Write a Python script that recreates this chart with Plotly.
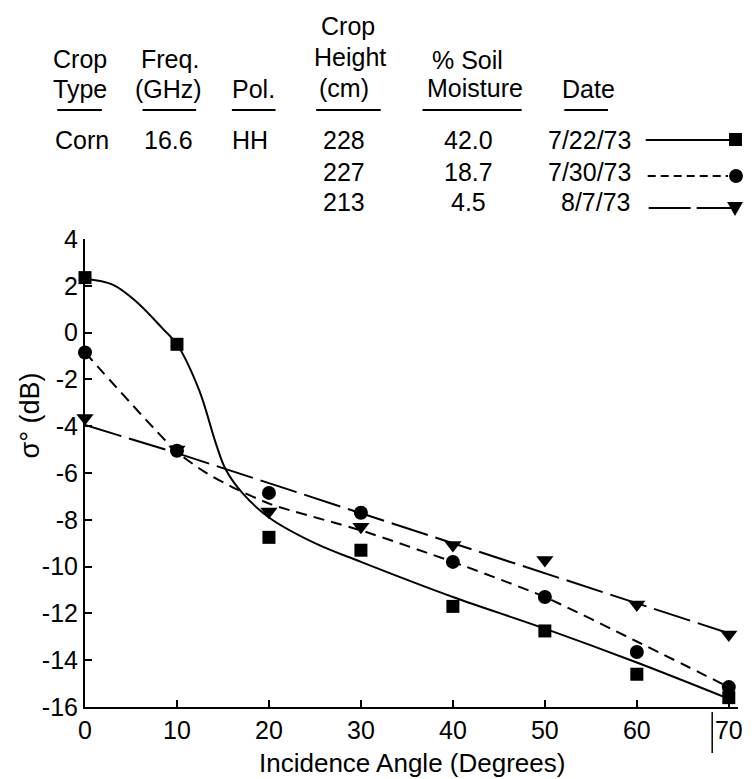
import plotly.graph_objects as go

# ---------------- data ----------------
angles = [0, 10, 20, 30, 40, 50, 60, 70]

sq_vals = [2.35, -0.5, -8.75, -9.3, -11.7, -12.75, -14.6, -15.6]      # 7/22/73
ci_vals = [-0.85, -5.05, -6.85, -7.7, -9.8, -11.3, -13.65, -15.15]    # 7/30/73
tr_vals = [-3.65, -5.0, -7.65, -8.3, -9.08, -9.72, -11.62, -12.9]     # 8/7/73

# hand-drawn fit curves
sq_fit_x = [0, 3, 5.5, 8.5, 10, 12.4, 14.2, 15.3, 17.1, 20, 25, 30, 40, 50, 60, 70]
sq_fit_y = [2.3, 2.05, 1.35, 0.15, -0.5, -2.45, -4.7, -5.85, -6.85, -7.9, -9.0, -9.8, -11.3, -12.65, -14.1, -15.65]
ci_fit_x = [0, 10, 13, 16, 20.3, 30, 40, 50, 60, 70]
ci_fit_y = [-0.85, -5.1, -5.95, -6.6, -7.35, -8.45, -9.8, -11.3, -13.2, -15.15]
tr_fit_x = [0, 10, 40, 70]
tr_fit_y = [-3.95, -5.15, -9.0, -12.85]

x_ticks = [0, 10, 20, 30, 40, 50, 60, 70]
y_ticks = [-16, -14, -12, -10, -8, -6, -4, -2, 0, 2, 4]

crop_type = "Corn"
freq = "16.6"
pol = "HH"
heights = ["228", "227", "213"]
moisture = ["42.0", "18.7", "4.5"]
dates = ["7/22/73", "7/30/73", "8/7/73"]

# ---------------- geometry ----------------
W, H = 755, 779
L, R, T, B = 85, 743, 239, 707


def px(x):
    return (x - L) / (R - L)


def py(y):
    return (B - y) / (B - T)


FONT = "Liberation Sans, Arial, sans-serif"
BLACK = "#000000"

fig = go.Figure()

SQ_DASH = "solid"
CI_DASH = "11px,7px"
TR_DASH = "38px,8px"

fig.add_trace(go.Scatter(x=sq_fit_x, y=sq_fit_y, mode="lines",
                         line=dict(color=BLACK, width=2, shape="spline", smoothing=1.0, dash=SQ_DASH),
                         cliponaxis=False, showlegend=False, hoverinfo="skip"))
fig.add_trace(go.Scatter(x=ci_fit_x, y=ci_fit_y, mode="lines",
                         line=dict(color=BLACK, width=2, shape="spline", smoothing=0.6, dash=CI_DASH),
                         cliponaxis=False, showlegend=False, hoverinfo="skip"))
fig.add_trace(go.Scatter(x=tr_fit_x, y=tr_fit_y, mode="lines",
                         line=dict(color=BLACK, width=2, dash=TR_DASH),
                         cliponaxis=False, showlegend=False, hoverinfo="skip"))

fig.add_trace(go.Scatter(x=angles, y=sq_vals, mode="markers", name="7/22/73",
                         marker=dict(symbol="square", size=13, color=BLACK),
                         cliponaxis=False, showlegend=False))
fig.add_trace(go.Scatter(x=angles, y=ci_vals, mode="markers", name="7/30/73",
                         marker=dict(symbol="circle", size=14, color=BLACK),
                         cliponaxis=False, showlegend=False))
fig.add_trace(go.Scatter(x=angles, y=tr_vals, mode="markers", name="8/7/73",
                         marker=dict(symbol="triangle-down", size=15, color=BLACK),
                         cliponaxis=False, showlegend=False))

ann = []
shapes = []


def text(s, x, y, size=25, anchor="center", font=FONT):
    ann.append(dict(text=s, x=px(x), y=py(y), xref="paper", yref="paper",
                    xanchor=anchor, yanchor="middle", showarrow=False,
                    font=dict(family=font, size=size, color=BLACK)))


def hline(x0, x1, y, width=2, dash="solid"):
    shapes.append(dict(type="line", xref="paper", yref="paper",
                       x0=px(x0), x1=px(x1), y0=py(y), y1=py(y),
                       line=dict(color=BLACK, width=width, dash=dash)))


# header
text("Crop", 350, 26)
text("Crop", 80, 59)
text("Freq.", 171, 59)
text("Height", 352, 57)
text("% Soil", 470, 60)
text("Type", 80, 89)
text("(GHz)", 169, 89)
text("Pol.", 255, 89)
text("(cm)", 346, 88)
text("Moisture", 478, 88)
text("Date", 592, 89)
for x0, x1 in [(57, 102), (143, 197), (233, 277), (318, 383), (425, 525), (568, 612)]:
    hline(x0, x1, 110, width=2)

rows_y = [140, 172, 202]
text(crop_type, 82, rows_y[0])
text(freq, 169, rows_y[0])
text(pol, 251, rows_y[0])
for i in range(3):
    text(heights[i], 346, rows_y[i])
    text(moisture[i], 471, rows_y[i])
    text(dates[i], 637, rows_y[i], anchor="right")

# legend samples
hline(650, 737, 140, width=2)
hline(652, 733, 176, width=2, dash="8px,5px")
hline(653, 740, 208, width=2, dash="42px,6px")
shapes.append(dict(type="rect", xref="paper", yref="paper",
                   x0=px(734), x1=px(747), y0=py(146), y1=py(133),
                   fillcolor=BLACK, line=dict(width=0)))
shapes.append(dict(type="circle", xref="paper", yref="paper",
                   x0=px(734), x1=px(748), y0=py(183), y1=py(169),
                   fillcolor=BLACK, line=dict(width=0)))
shapes.append(dict(type="path", xref="paper", yref="paper",
                   path=f"M {px(732)} {py(202)} L {px(748)} {py(202)} L {px(740)} {py(216)} Z",
                   fillcolor=BLACK, line=dict(width=0)))

# stray vertical mark below the axis near 68 degrees
shapes.append(dict(type="line", xref="paper", yref="paper",
                   x0=px(717), x1=px(717), y0=py(712), y1=py(753),
                   line=dict(color=BLACK, width=1.5)))

# axis titles
text("Incidence Angle (Degrees)", 414, 763, size=26)
ann.append(dict(text="σ° (dB)", x=px(30), y=py(415), xref="paper", yref="paper",
                xanchor="center", yanchor="middle", showarrow=False, textangle=-90,
                font=dict(family=FONT, size=27, color=BLACK)))

fig.update_layout(
    width=W, height=H,
    margin=dict(l=L, r=W - R, t=T, b=H - B, pad=0),
    paper_bgcolor="white", plot_bgcolor="white",
    annotations=ann, shapes=shapes,
    showlegend=False,
)
fig.update_xaxes(range=[0, 71], tickvals=x_ticks, ticktext=[str(v) for v in x_ticks],
                 showgrid=False, zeroline=False, showline=True, linecolor=BLACK, linewidth=2,
                 ticks="inside", ticklen=7, tickwidth=2, tickcolor=BLACK,
                 ticklabelstandoff=0,
                 tickfont=dict(family=FONT, size=25, color=BLACK))
fig.update_yaxes(range=[-16, 4], tickvals=y_ticks, ticktext=[str(v) for v in y_ticks],
                 showgrid=False, zeroline=False, showline=True, linecolor=BLACK, linewidth=2,
                 ticks="inside", ticklen=7, tickwidth=2, tickcolor=BLACK,
                 ticklabelstandoff=0,
                 tickfont=dict(family=FONT, size=25, color=BLACK))

fig.write_html("out.html")
